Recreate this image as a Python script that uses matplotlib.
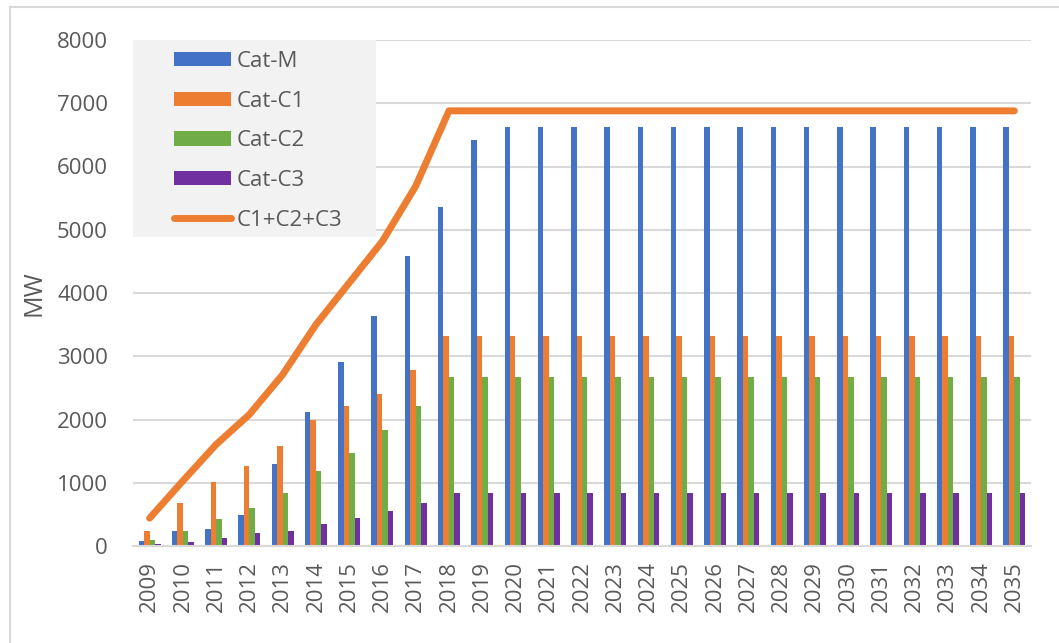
import numpy as np
import matplotlib
matplotlib.use("Agg")
import matplotlib.pyplot as plt
from matplotlib.patches import Rectangle
from matplotlib.lines import Line2D

plt.rcParams["font.family"] = ["Open Sans", "DejaVu Sans"]

YEARS = list(range(2009, 2036))
CAT_M = [80, 230, 264, 490, 1290, 2117, 2905, 3634, 4580, 5362, 6420] + [6620] * 16
CAT_C1 = [230, 685, 1017, 1264, 1580, 1986, 2210, 2410, 2790, 3328] + [3328] * 17
CAT_C2 = [95, 237, 422, 607, 844, 1185, 1475, 1833, 2210, 2672] + [2672] * 17
CAT_C3 = [30, 70, 133, 200, 237, 343, 449, 553, 686, 840] + [840] * 17
C_SUM = [440, 1030, 1605, 2080, 2710, 3500, 4160, 4820, 5690, 6880] + [6880] * 17

BLUE, ORANGE, GREEN, PURPLE = "#4472C4", "#ED7D31", "#70AD47", "#7030A0"
TXT = "#595959"
GRID = "#d9d9d9"

W, H = 1059, 643
fig = plt.figure(figsize=(W / 100, H / 100), dpi=100)
L, R, T, B = 133, 1031, 40, 546
ax = fig.add_axes([L / W, 1 - B / H, (R - L) / W, (B - T) / H])

x = np.arange(len(YEARS))
w = 0.165
series = [("Cat-M", CAT_M, BLUE), ("Cat-C1", CAT_C1, ORANGE),
          ("Cat-C2", CAT_C2, GREEN), ("Cat-C3", CAT_C3, PURPLE)]
handles = []
for i, (name, vals, col) in enumerate(series):
    b = ax.bar(x + (i - 1.5) * w, vals, width=w, color=col, zorder=2, label=name)
    handles.append(b)
ln, = ax.plot(x, C_SUM, color=ORANGE, linewidth=5, solid_capstyle="round",
              solid_joinstyle="round", zorder=3, label="C1+C2+C3")
handles.append(ln)

ax.set_xlim(-0.5, len(YEARS) - 0.5)
ax.set_ylim(0, 8000)
ax.set_yticks(range(0, 8001, 1000))
ax.set_xticks(x)
ax.set_xticklabels([str(y) for y in YEARS], rotation=90)
ax.tick_params(axis="y", length=0, pad=18, labelsize=16, labelcolor=TXT)
ax.tick_params(axis="x", length=0, pad=11, labelsize=16, labelcolor=TXT)
ax.grid(axis="y", color=GRID, linewidth=1.5, zorder=0)
ax.set_axisbelow(True)
for s in ["top", "right", "left"]:
    ax.spines[s].set_visible(False)
ax.spines["bottom"].set_color(GRID)
ax.spines["bottom"].set_linewidth(1.5)

fig.text(34 / W, 1 - 293 / H, "MW", rotation=90, ha="center", va="center",
         fontsize=18, color=TXT)

# legend panel
ax.add_patch(Rectangle((0, (B - 237) / (B - T)), (376 - L) / (R - L),
                       1 - (B - 237) / (B - T), transform=ax.transAxes,
                       facecolor="#f2f2f2", edgecolor="none", zorder=4,
                       clip_on=False))
leg = ax.legend(handles=handles, loc="upper left",
                bbox_to_anchor=(174 / W, 1 - 51 / H), bbox_transform=fig.transFigure,
                frameon=False, borderpad=0, borderaxespad=0, fontsize=16,
                handlelength=2.57, handleheight=0.6, handletextpad=0.27,
                labelspacing=0.84)
leg.set_zorder(5)
for t in leg.get_texts():
    t.set_color(TXT)

# outer frame
fig.add_artist(Line2D([10 / W, 10 / W], [0, 1 - 7 / H], color=GRID, linewidth=1.5,
                      transform=fig.transFigure))
fig.add_artist(Line2D([10 / W, 1], [1 - 7 / H, 1 - 7 / H], color=GRID, linewidth=1.5,
                      transform=fig.transFigure))

fig.savefig("out.png", dpi=100)
